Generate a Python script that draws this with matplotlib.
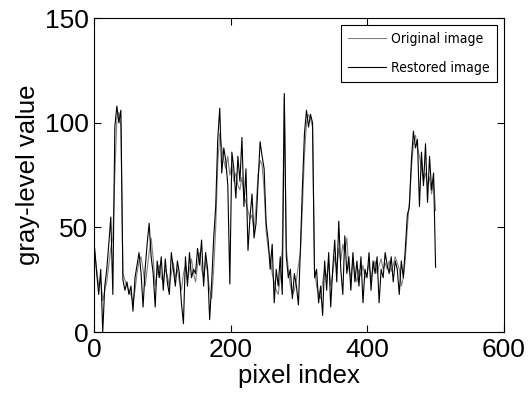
import numpy as np
import matplotlib
matplotlib.use("Agg")
import matplotlib.pyplot as plt
from matplotlib import font_manager

# pixel index, one sample read every ~3 pixels
pixel_index = np.linspace(1, 500, 170)

original = [38, 30, 22, 25, 15, 20, 24, 32, 40, 45,
            75, 102, 105, 98, 28, 25, 22, 20, 18, 14,
            20, 28, 34, 36, 30, 22, 30, 38, 45, 35,
            22, 28, 32, 26, 24, 30, 27, 22, 28, 33,
            26, 30, 24, 20, 28, 32, 25, 30, 35, 28,
            24, 32, 38, 30, 26, 34, 28, 20, 16, 30,
            50, 80, 95, 88, 82, 78, 84, 75, 80, 72,
            76, 70, 68, 74, 65, 62, 58, 54, 56, 48,
            60, 75, 82, 80, 68, 48, 40, 36, 28, 24,
            20, 18, 26, 40, 112, 40, 30, 22, 18, 20,
            25, 32, 38, 60, 85, 100, 104, 102, 98, 30,
            22, 18, 16, 24, 30, 26, 34, 22, 28, 36,
            30, 40, 34, 42, 38, 45, 30, 26, 34, 28,
            24, 30, 27, 32, 26, 28, 33, 25, 30, 34,
            28, 32, 35, 30, 33, 30, 34, 29, 32, 36,
            33, 30, 22, 26, 35, 50, 62, 78, 90, 94,
            88, 84, 78, 72, 76, 70, 74, 66, 72, 58]

restored = [40, 28, 18, 30, 0, 22, 30, 42, 55, 18,
            98, 108, 100, 106, 25, 20, 24, 18, 22, 10,
            26, 32, 38, 28, 12, 30, 42, 52, 36, 28,
            12, 34, 26, 36, 20, 35, 24, 18, 38, 30,
            22, 34, 28, 14, 4, 36, 22, 38, 26, 30,
            28, 40, 32, 44, 22, 38, 30, 6, 24, 45,
            60, 92, 107, 76, 88, 82, 70, 23, 86, 78,
            64, 84, 72, 93, 60, 78, 39, 55, 66, 45,
            52, 72, 91, 84, 78, 52, 44, 30, 42, 14,
            30, 22, 36, 18, 114, 36, 26, 30, 16, 28,
            22, 13, 40, 70, 95, 106, 98, 104, 100, 26,
            30, 14, 22, 8, 34, 20, 38, 12, 30, 44,
            24, 53, 30, 18, 46, 28, 36, 20, 38, 24,
            34, 22, 36, 14, 30, 26, 38, 20, 34, 28,
            36, 14, 30, 26, 38, 32, 28, 36, 24, 34,
            30, 18, 34, 26, 40, 56, 60, 82, 96, 88,
            92, 60, 86, 70, 90, 62, 84, 68, 76, 31]

plt.rcParams['font.family'] = ['Liberation Sans', 'DejaVu Sans']

# legend in the reference uses a narrow font; look for one on the system
narrow = None
for f in font_manager.fontManager.ttflist:
    fn = f.fname.lower()
    if ('narrow' in fn or 'condensed' in fn or f.stretch in ('condensed', 'semi-condensed')) \
            and f.style == 'normal' and f.weight in (400, 'normal', 'regular') \
            and 'mono' not in fn and 'serif' not in fn.replace('sans', ''):
        narrow = f.fname
        break
if narrow:
    leg_font = font_manager.FontProperties(fname=narrow, size=10)
else:
    leg_font = font_manager.FontProperties(family='Liberation Sans', size=8.5)
fpx = leg_font.get_size_in_points() * 100 / 72.0

fig = plt.figure(figsize=(5.31, 3.94), dpi=100)
ax = fig.add_axes([0.177, 0.157, 0.772, 0.797])

ax.plot(pixel_index, original, color='#808080', lw=0.8, label='Original image')
ax.plot(pixel_index, restored, color='black', lw=0.8, label='Restored image')

ax.set_xlim(0, 600)
ax.set_ylim(0, 150)
ax.set_xticks([0, 200, 400, 600])
ax.set_yticks([0, 50, 100, 150])
ax.tick_params(direction='in', top=True, right=True, labelsize=19, length=5, pad=4)
ax.set_xlabel('pixel index', fontsize=18.5, labelpad=2)
ax.set_ylabel('gray-level value', fontsize=18.5, labelpad=3)

leg = ax.legend(loc='upper right', fancybox=False,
                framealpha=1, edgecolor='black',
                handlelength=38 / fpx,
                borderaxespad=7 / fpx,
                borderpad=(57 - 29 - fpx) / (2 * fpx),
                labelspacing=29 / fpx - 1,
                handletextpad=5 / fpx,
                prop=leg_font)
leg.get_frame().set_linewidth(0.8)

fig.savefig('out.png', dpi=100)
